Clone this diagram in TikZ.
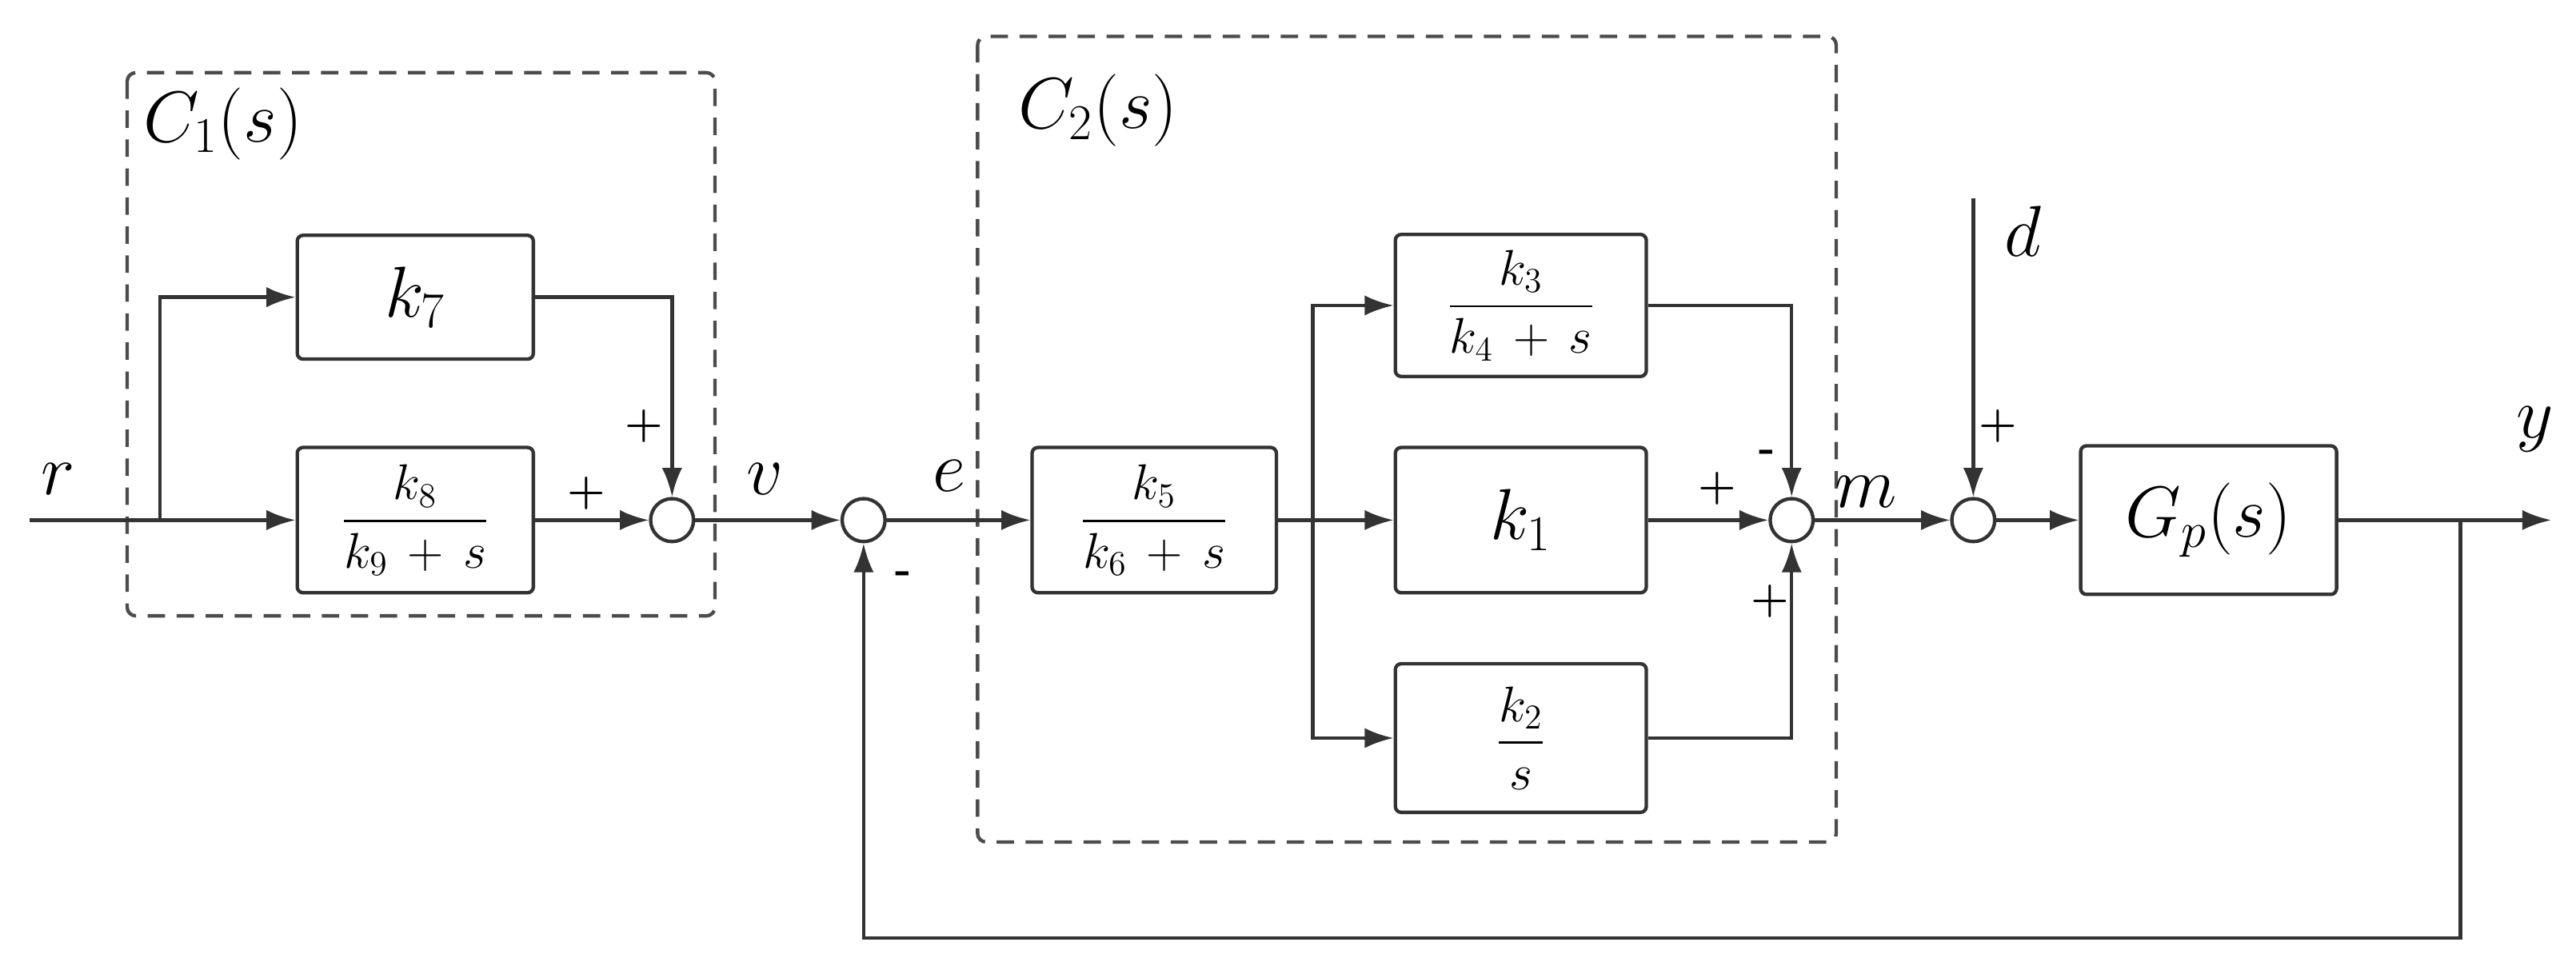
\documentclass[tikz,border=0pt]{standalone}
\usepackage{amsmath}
\usetikzlibrary{arrows.meta}
\begin{document}
\begin{tikzpicture}[x=0.02cm,y=-0.02cm,
  blk/.style={draw=black!80, very thick, rounded corners=2pt, inner sep=0pt},
  sumn/.style={circle, draw=black!80, very thick, minimum size=0.52cm, inner sep=0pt},
  ln/.style={very thick, draw=black!80},
  ar/.style={very thick, draw=black!80, -{Latex[length=10pt,width=7pt]}},
  dsh/.style={very thick, draw=black!70, dashed, dash pattern=on 6pt off 4pt, rounded corners=3pt},
  sig/.style={font=\fontsize{34}{38}\selectfont},
  sg/.style={font=\bfseries\fontsize{15}{17}\selectfont},
  big/.style={font=\fontsize{26}{30}\selectfont},
  frc/.style={font=\fontsize{18}{22}\selectfont}
]
\useasboundingbox (0,0) rectangle (1560,585);
% dashed controller boxes
\draw[dsh] (77,44) rectangle (433,373);
\node[big] (c1) at (135,75) {$C_1(s)$};
\draw[dsh] (592,22) rectangle (1112,510);
\node[big] (c2) at (665,67) {$C_2(s)$};
% blocks
\node[blk, minimum width=2.86cm, minimum height=1.5cm, big] (k7) at (251.5,180) {$k_7$};
\node[blk, minimum width=2.86cm, minimum height=1.76cm, frc] (k8) at (251.5,315) {$\dfrac{k_8}{k_9\,+\,s}$};
\node[blk, minimum width=2.96cm, minimum height=1.76cm, frc] (k5) at (699,315) {$\dfrac{k_5}{k_6\,+\,s}$};
\node[blk, minimum width=3.04cm, minimum height=1.72cm, frc] (k3) at (921,185) {$\dfrac{k_3}{k_4\,+\,s}$};
\node[blk, minimum width=3.04cm, minimum height=1.76cm, big] (k1) at (921,315) {$k_1$};
\node[blk, minimum width=3.04cm, minimum height=1.8cm, frc] (k2) at (921,447) {$\dfrac{k_2}{s}$};
\node[blk, minimum width=3.1cm, minimum height=1.8cm, big] (gp) at (1337.5,315) {$G_p(s)$};
% summing junctions
\node[sumn] (s1) at (407,315) {};
\node[sumn] (s2) at (523,315) {};
\node[sumn] (s3) at (1085,315) {};
\node[sumn] (s4) at (1195,315) {};
% coordinates
\coordinate (rin) at (18,315);
\coordinate (b1) at (97,315);
\coordinate (b2) at (795,315);
\coordinate (din) at (1195,120);
\coordinate (yout) at (1545,315);
\coordinate (b3) at (1490,315);
% C1
\draw[ln] (rin) -- (b1);
\draw[ar] (b1) -- (k8.west);
\draw[ar] (b1) |- (k7.west);
\draw[ar] (k7.east) -| (s1.north);
\draw[ar] (k8.east) -- (s1.west);
% main path
\draw[ar] (s1.east) -- (s2.west);
\draw[ar] (s2.east) -- (k5.west);
\draw[ln] (k5.east) -- (b2);
\draw[ar] (b2) -- (k1.west);
\draw[ar] (b2) |- (k3.west);
\draw[ar] (b2) |- (k2.west);
\draw[ar] (k3.east) -| (s3.north);
\draw[ar] (k1.east) -- (s3.west);
\draw[ar] (k2.east) -| (s3.south);
\draw[ar] (s3.east) -- (s4.west);
\draw[ar] (din) -- (s4.north);
\draw[ar] (s4.east) -- (gp.west);
\draw[ar] (gp.east) -- (yout);
\draw[ar] (b3) -- (1490,568) -| (s2.south);
% signal labels
\node[sig] (lr) at (35,290) {$r$};
\node[sig] (lv) at (463,290) {$v$};
\node[sig] (le) at (575,288) {$e$};
\node[sig] (lm) at (1130,298) {$m$};
\node[sig] (ld) at (1225,140) {$d$};
\node[sig] (ly) at (1535,260) {$y$};
% signs
\node[sg] (p1) at (390,258) {+};
\node[sg] (p2) at (355,299) {+};
\node[sg] (m2) at (547,350) {-};
\node[sg] (m3) at (1070,276) {-};
\node[sg] (p3) at (1040,296) {+};
\node[sg] (p4) at (1072,364) {+};
\node[sg] (p5) at (1210,258) {+};
\end{tikzpicture}
\end{document}
